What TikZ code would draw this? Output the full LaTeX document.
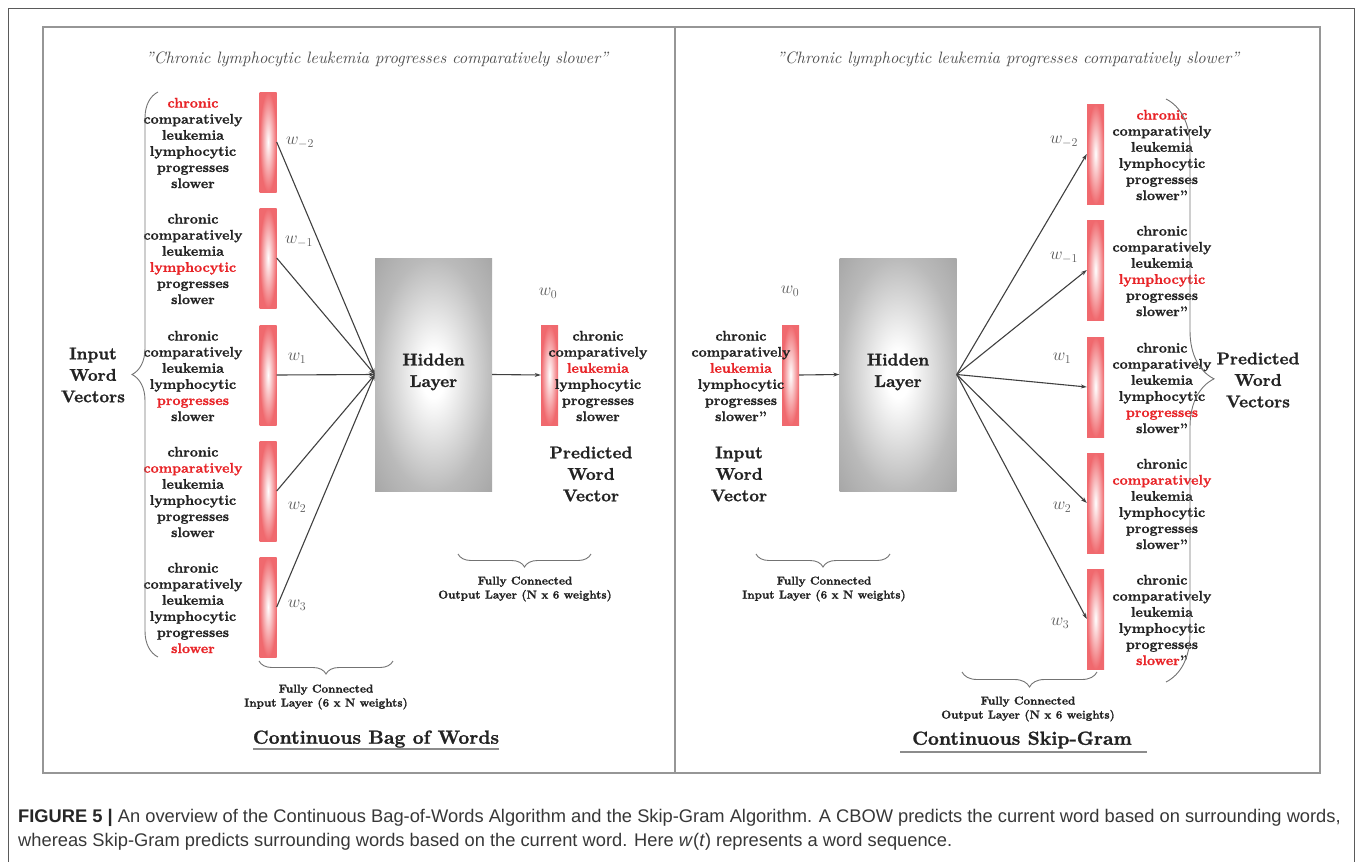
\documentclass[tikz,border=0pt]{standalone}
\usepackage{fontspec}
\setmainfont{lmroman10-regular.otf}[
  BoldFont=lmroman10-bold.otf,
  ItalicFont=lmroman10-italic.otf,
  BoldItalicFont=lmroman10-bolditalic.otf,
  BoldFeatures={FakeBold=1.2}]
\newfontfamily\capfont{Liberation Sans}
\usetikzlibrary{arrows.meta,decorations.pathreplacing,shadings}

\definecolor{hlred}{RGB}{232,36,40}
\definecolor{ink}{RGB}{35,35,35}
\definecolor{quotegray}{RGB}{80,80,80}
\definecolor{labgray}{RGB}{90,90,90}
\definecolor{barpink}{RGB}{240,105,110}
\definecolor{framegray}{RGB}{150,150,150}
\definecolor{outergray}{RGB}{90,90,90}
\definecolor{captext}{RGB}{55,55,55}

% soft grey glow used for the hidden layer boxes
\pgfdeclareradialshading{hiddenglow}{\pgfpoint{0bp}{0bp}}{%
  color(0bp)=(white);
  color(5bp)=(white);
  color(25bp)=(black!27);
  color(36bp)=(black!35);
  color(50bp)=(black!36)}

\newcommand{\hl}[1]{\textcolor{hlred}{#1}}

\tikzset{
  wordvec/.style={minimum width=17pt, minimum height=100pt, inner sep=0pt,
    shading=radial, inner color=white, outer color=barpink},
  hiddenbox/.style={minimum width=117pt, minimum height=233pt, inner sep=0pt,
    shading=hiddenglow},
  words/.style={align=center, text=ink, inner sep=0pt,
    font=\fontsize{14}{16.1}\selectfont\bfseries},
  biglab/.style={align=center, text=ink, inner sep=0pt,
    font=\fontsize{17}{21.5}\selectfont\bfseries},
  smalllab/.style={align=center, text=ink, inner sep=0pt,
    font=\fontsize{11.5}{14}\selectfont\bfseries},
  wlab/.style={text=labgray, inner sep=0pt, font=\fontsize{17}{18}\selectfont},
  quote/.style={text=quotegray, inner sep=0pt, font=\fontsize{16.5}{18}\selectfont\itshape},
  title/.style={text=ink, inner sep=0pt, font=\fontsize{19}{20}\selectfont\bfseries},
  conn/.style={draw=black!75, line width=1.1pt, -{Stealth[length=6pt,width=4pt]}},
  bracestyle/.style={draw=black!55, line width=0.9pt, decorate},
  underl/.style={draw=black!45, line width=1.2pt},
  captionline/.style={anchor=west, inner sep=0pt, text=captext,
    font=\capfont\fontsize{18.3}{20}\selectfont},
}

\begin{document}
\begin{tikzpicture}[x=1pt, y=-1pt]
\useasboundingbox (0,0) rectangle (1358,862);

% frames
\draw[outergray, line width=1pt] (8,866) -- (8,8) -- (1354,8) -- (1354,866);
\draw[framegray, line width=1.2pt] (43,27) rectangle (1320,773);
\draw[framegray, line width=1.2pt] (675,27) -- (675,773);

% ================= Continuous Bag of Words =================
\node[quote] (qL) at (377,59) {''Chronic lymphocytic leukemia progresses comparatively slower''};

\node[wordvec] (iv1) at (268,142) {};
\node[wordvec] (iv2) at (268,258) {};
\node[wordvec] (iv3) at (268,375) {};
\node[wordvec] (iv4) at (268,491) {};
\node[wordvec] (iv5) at (268,607) {};

\node[words] (tL1) at (193,143) {\hl{chronic}\\comparatively\\leukemia\\lymphocytic\\progresses\\slower};
\node[words] (tL2) at (193,259) {chronic\\comparatively\\leukemia\\\hl{lymphocytic}\\progresses\\slower};
\node[words] (tL3) at (193,376) {chronic\\comparatively\\leukemia\\lymphocytic\\\hl{progresses}\\slower};
\node[words] (tL4) at (193,492) {chronic\\\hl{comparatively}\\leukemia\\lymphocytic\\progresses\\slower};
\node[words] (tL5) at (193,608) {chronic\\comparatively\\leukemia\\lymphocytic\\progresses\\\hl{slower}};

\node[wlab] (wL1) at (300,143) {$w_{-2}$};
\node[wlab] (wL2) at (299,242) {$w_{-1}$};
\node[wlab] (wL3) at (297,358) {$w_{1}$};
\node[wlab] (wL4) at (297,507) {$w_{2}$};
\node[wlab] (wL5) at (297,605) {$w_{3}$};

\node[biglab] (inL) at (93,375) {Input\\Word\\Vectors};
\draw[bracestyle, decoration={brace, amplitude=26pt, aspect=0.5}] (158,657) -- (158,92);

\node[hiddenbox] (hidL) at (433.5,374.5) {};
\node[biglab] (hidLt) at (433.5,372) {Hidden\\Layer};

\foreach \i in {1,...,5} \draw[conn] (iv\i.east) -- (hidL.west);

\node[wordvec] (ovL) at (549.5,375) {};
\node[wlab] (w0L) at (548,293) {$w_{0}$};
\draw[conn] (hidL.east) -- (ovL.west);
\node[words] (tLo) at (598,376) {chronic\\comparatively\\\hl{leukemia}\\lymphocytic\\progresses\\slower};
\node[biglab] (predL) at (591,474) {Predicted\\Word\\Vector};

\draw[bracestyle, decoration={brace, amplitude=13pt}] (591,554) -- (458,554);
\node[smalllab] (fcoL) at (525,589) {Fully Connected\\Output Layer (N x 6 weights)};

\draw[bracestyle, decoration={brace, amplitude=13pt}] (393,661) -- (259,661);
\node[smalllab] (fciL) at (326,697) {Fully Connected\\Input Layer (6 x N weights)};

\node[title] (tiL) at (376,739) {Continuous Bag of Words};
\draw[underl] (253,749) -- (499,749);

% ================= Continuous Skip-Gram =================
\node[quote] (qR) at (1008,59) {''Chronic lymphocytic leukemia progresses comparatively slower''};

\node[wordvec] (ivR) at (790.5,375) {};
\node[wlab] (w0R) at (790,291) {$w_{0}$};
\node[words] (tRi) at (741,376) {chronic\\comparatively\\\hl{leukemia}\\lymphocytic\\progresses\\slower''};
\node[biglab] (inR) at (739,474) {Input\\Word\\Vector};

\node[hiddenbox] (hidR) at (898,374.5) {};
\node[biglab] (hidRt) at (898,372) {Hidden\\Layer};
\draw[conn] (ivR.east) -- (hidR.west);

\node[wordvec] (ov1) at (1095.5,154) {};
\node[wordvec] (ov2) at (1095.5,270) {};
\node[wordvec] (ov3) at (1095.5,387) {};
\node[wordvec] (ov4) at (1095.5,503) {};
\node[wordvec] (ov5) at (1095.5,619) {};

\foreach \i in {1,...,5} \draw[conn] (hidR.east) -- (ov\i.west);

\node[words] (tR1) at (1162,155) {\hl{chronic}\\comparatively\\leukemia\\lymphocytic\\progresses\\slower''};
\node[words] (tR2) at (1162,271) {chronic\\comparatively\\leukemia\\\hl{lymphocytic}\\progresses\\slower''};
\node[words] (tR3) at (1162,388) {chronic\\comparatively\\leukemia\\lymphocytic\\\hl{progresses}\\slower''};
\node[words] (tR4) at (1162,504) {chronic\\\hl{comparatively}\\leukemia\\lymphocytic\\progresses\\slower''};
\node[words] (tR5) at (1162,620) {chronic\\comparatively\\leukemia\\lymphocytic\\progresses\\\hl{slower}''};

\node[wlab] (wR1) at (1064,142) {$w_{-2}$};
\node[wlab] (wR2) at (1064,258) {$w_{-1}$};
\node[wlab] (wR3) at (1062,358) {$w_{1}$};
\node[wlab] (wR4) at (1062,507) {$w_{2}$};
\node[wlab] (wR5) at (1060,623) {$w_{3}$};

\draw[bracestyle, decoration={brace, amplitude=48pt, aspect=0.48}] (1166,99) -- (1166,682);
\node[biglab] (predR) at (1258,380) {Predicted\\Word\\Vectors};

\draw[bracestyle, decoration={brace, amplitude=13pt}] (890,554) -- (756,554);
\node[smalllab] (fciR) at (824,589) {Fully Connected\\Input Layer (6 x N weights)};

\draw[bracestyle, decoration={brace, amplitude=15pt}] (1097,672) -- (962,672);
\node[smalllab] (fcoR) at (1028,709) {Fully Connected\\Output Layer (N x 6 weights)};

\node[title] (tiR) at (1022,740) {Continuous Skip-Gram};
\draw[underl] (900,752) -- (1147,752);

% ================= caption =================
\node[captionline] (cap1) at (18,818)
  {\textbf{\color{black!85}FIGURE 5 |} An overview of the Continuous Bag-of-Words Algorithm and the Skip-Gram Algorithm. A CBOW predicts the current word based on surrounding words,};
\node[captionline] (cap2) at (18,842)
  {whereas Skip-Gram predicts surrounding words based on the current word. Here \textit{w}(\textit{t}) represents a word sequence.};
\end{tikzpicture}
\end{document}
